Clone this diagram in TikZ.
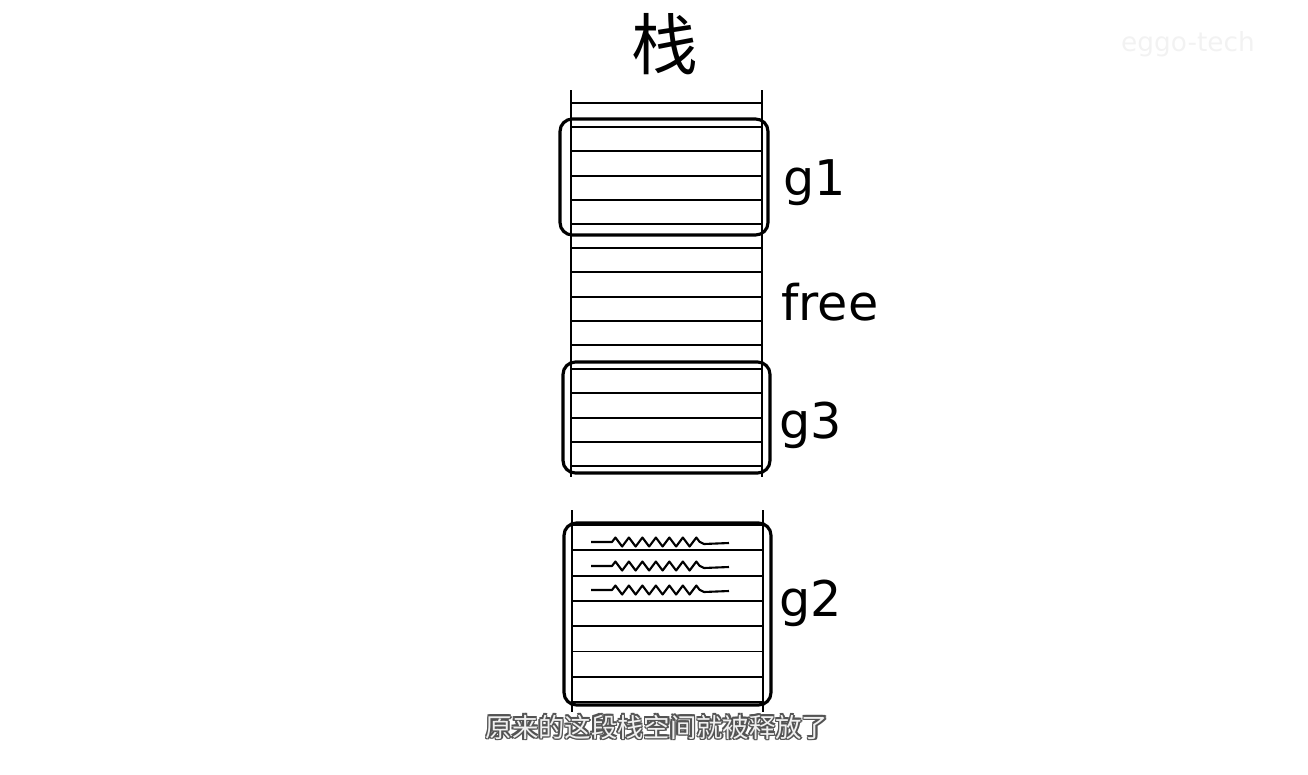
\documentclass[tikz,border=0pt]{standalone}
\usepackage{fontspec}
\setmainfont{DejaVu Sans}
\newfontfamily\cjk{Noto Sans CJK SC}
\usetikzlibrary{positioning,decorations.pathmorphing}
\tikzset{
  linea/.style={
    line width=1.1pt,
    black
  },
  marco/.style={
    draw,
    line width=1.8pt,
    rounded corners=7pt,
    inner sep=0pt
  },
  etiqueta/.style={
    anchor=west,
    inner sep=0pt,
    font=\fontsize{28}{30}\selectfont
  },
  onda/.style={
    line width=1.2pt,
    line join=round,
    decoration={zigzag, segment length=0.27cm, amplitude=0.09cm}
  },
  subtitulo/.style={
    inner sep=0pt,
    font=\cjk\fontsize{15}{17}\selectfont
  }
}
\begin{document}
\begin{tikzpicture}[x=0.02cm, y=-0.02cm]
\useasboundingbox (0,0) rectangle (1308,774);
% titulo
\node[font=\cjk\fontsize{38}{40}\selectfont] (titulo) at (665,44) {栈};
\node[font=\fontsize{15}{17}\selectfont, text=gray!10] (marca) at (1188,44) {eggo-tech};
% pila de arriba
\draw[linea] (571,90) -- (571,477);
\draw[linea] (762,90) -- (762,477);
\foreach \k in {0,...,15}
  \draw[linea] (571,{103+24.2*\k}) -- (762,{103+24.2*\k});
% pila de abajo
\draw[linea] (572,510) -- (572,712);
\draw[linea] (763,510) -- (763,712);
\foreach \k in {0,...,7}
  \draw[linea] (572,{525+25.3*\k}) -- (763,{525+25.3*\k});
% marcos
\node[marco, minimum width=4.16cm, minimum height=2.32cm] (g1box) at (664,177) {};
\node[marco, minimum width=4.14cm, minimum height=2.22cm] (g3box) at (666.5,417.5) {};
\node[marco, minimum width=4.14cm, minimum height=3.64cm] (g2box) at (667.5,614) {};
% datos escritos en g2
\foreach \y in {542,566,590}
  \draw[onda] (591,\y) -- (612,\y) decorate{-- (700,\y)} -- (704,\y+2) -- (729,\y+1);
% etiquetas
\node[etiqueta] (g1) at (783,183) {g1};
\node[etiqueta] (free) at (781,302) {free};
\node[etiqueta] (g3) at (779,425) {g3};
\node[etiqueta] (g2) at (779,603) {g2};
% subtitulo (con borde)
\foreach \dx/\dy in {-1.5/0,1.5/0,0/-1.5,0/1.5,-1.2/-1.2,1.2/1.2,-1.2/1.2,1.2/-1.2}
  \node[subtitulo, text=gray!65!black] at (657+\dx,727+\dy) {原来的这段栈空间就被释放了};
\node[subtitulo, text=gray!12] (sub) at (657,727) {原来的这段栈空间就被释放了};
\end{tikzpicture}
\end{document}
